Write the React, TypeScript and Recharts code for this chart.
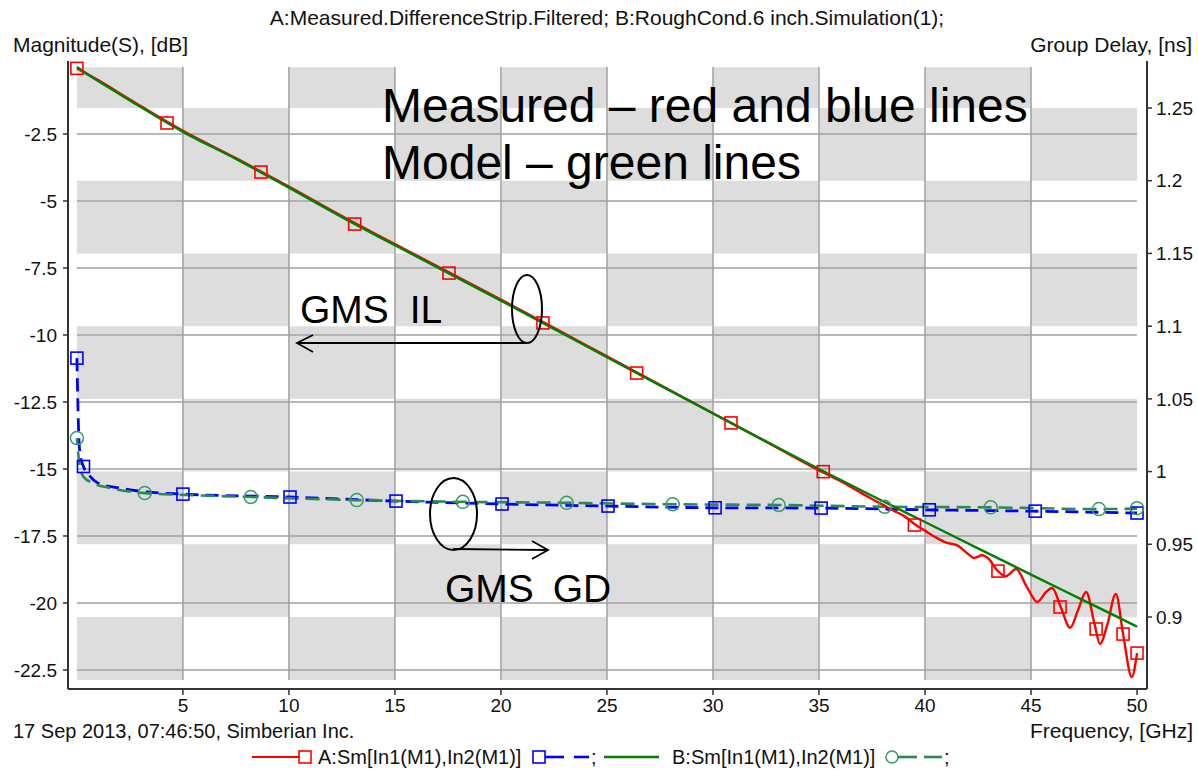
import { ComposedChart, Line, ReferenceArea, ReferenceLine, XAxis, YAxis } from "recharts";

// frequency axis, GHz
const freqTicks = [5, 10, 15, 20, 25, 30, 35, 40, 45, 50];
const magTicks = [-2.5, -5, -7.5, -10, -12.5, -15, -17.5, -20, -22.5];
const gdTicks = [0.9, 0.95, 1, 1.05, 1.1, 1.15, 1.2, 1.25];

// background checkerboard edges (GHz columns, ns rows)
const cellCols = [0, 5, 10, 15, 20, 25, 30, 35, 40, 45, 50];
const cellRows = [1.278, 1.25, 1.2, 1.15, 1.1, 1.05, 1, 0.95, 0.9, 0.8567];

// B: model insertion loss, dB
const modelILFreq = [0, 0.5, 1, 2.5, 5, 7.5, 10, 12.5, 15, 17.5, 20, 22.5, 25, 27.5, 30, 32.5, 35, 37.5, 40, 42.5, 45, 47.5, 50];
const modelIL = [0, -0.28, -0.52, -1.25, -2.42, -3.43, -4.5, -5.6, -6.65, -7.68, -8.72, -9.77, -10.83, -11.88, -12.93, -13.97, -15.0, -16.0, -16.98, -17.96, -18.94, -19.91, -20.88];

// A: measured insertion loss, dB
const measILFreq = [0, 0.5, 1, 2.5, 5, 7.5, 10, 12.5, 15, 17.5, 20, 22.5, 25, 27.5, 30, 32.5, 35, 36, 36.5, 37, 37.5, 38, 38.5, 39, 39.5, 40, 40.5, 41, 41.5, 42, 42.3, 42.7, 43, 43.4, 43.8, 44.3, 44.8, 45.3, 45.7, 46, 46.4, 46.85, 47.2, 47.6, 48, 48.25, 48.6, 49, 49.35, 49.75, 50];
const measIL = [-0.05, -0.26, -0.49, -1.21, -2.38, -3.4, -4.46, -5.56, -6.61, -7.64, -8.68, -9.73, -10.8, -11.86, -12.92, -13.98, -15.05, -15.45, -15.67, -15.9, -16.12, -16.33, -16.55, -16.75, -17.05, -17.3, -17.55, -17.75, -17.84, -18.15, -18.32, -18.22, -18.35, -18.78, -19.0, -18.73, -19.4, -19.96, -19.6, -19.44, -20.15, -20.93, -20.3, -19.59, -20.8, -21.53, -20.8, -19.66, -21.2, -22.76, -21.87];
const measILMarkFreq = [0, 4.25, 8.68, 13.1, 17.55, 21.98, 26.4, 30.85, 35.2, 39.5, 43.44, 46.37, 48.07, 49.34, 50];
const measILMark = [-0.05, -2.09, -3.92, -5.86, -7.69, -9.55, -11.42, -13.28, -15.1, -17.09, -18.81, -20.15, -20.97, -21.16, -21.87];

// A: measured group delay, ns
const measGDFreq = [0, 0.04, 0.08, 0.15, 0.31, 0.6, 1, 2, 3.3, 5, 10, 15, 20, 25, 30, 35, 40, 45, 50];
const measGD = [1.078, 1.05, 1.028, 1.012, 1.0035, 0.997, 0.992, 0.9887, 0.986, 0.9845, 0.9825, 0.9797, 0.9777, 0.9763, 0.9751, 0.9749, 0.9737, 0.9728, 0.9715];
const measGDMarkFreq = [0, 0.31, 5, 10.05, 15.05, 20.05, 25.05, 30.1, 35.1, 40.2, 45.2, 50];
const measGDMark = [1.078, 1.0035, 0.9845, 0.9825, 0.9797, 0.9777, 0.9763, 0.9751, 0.9749, 0.9737, 0.9728, 0.9715];

// B: model group delay, ns
const modelGDFreq = [0, 0.08, 0.2, 0.3, 0.77, 1.56, 3.2, 5, 8.2, 13.2, 18.2, 23.1, 28.1, 33.1, 38.1, 43.1, 48.2, 50];
const modelGD = [1.023, 1.01, 1.0, 0.9965, 0.992, 0.9887, 0.9852, 0.984, 0.9825, 0.9804, 0.9792, 0.9785, 0.9775, 0.977, 0.9758, 0.9754, 0.9742, 0.9745];
const modelGDMarkFreq = [0, 3.2, 8.2, 13.2, 18.2, 23.1, 28.1, 33.1, 38.1, 43.1, 48.2, 50];
const modelGDMark = [1.023, 0.9852, 0.9825, 0.9804, 0.9792, 0.9785, 0.9775, 0.977, 0.9758, 0.9754, 0.9742, 0.9748];

const pts = (fs: number[], vs: number[]) => fs.map((f, i) => ({ f, v: vs[i] }));

const FONT = '"Liberation Sans", Arial, sans-serif';
const RED = "#ff0000";
const BLUE = "#0000ff";
const GREEN = "#008000";
const TEAL = "#2a8a55";

const square = (color: string) => (p: any) =>
  p.cx == null ? <g key={p.index} /> : (
    <rect key={p.index} x={p.cx - 6} y={p.cy - 6} width={12} height={12} fill="none" stroke={color} strokeWidth={1.6} />
  );
const circle = (color: string) => (p: any) =>
  p.cx == null ? <g key={p.index} /> : (
    <circle key={p.index} cx={p.cx} cy={p.cy} r={6.5} fill="none" stroke={color} strokeWidth={1.5} />
  );

const axisLine = { stroke: "#333", strokeWidth: 2 };
const tickLine = { stroke: "#333", strokeWidth: 1.5 };
const tickStyle = { fill: "#111", fontSize: 19, fontFamily: FONT };

export default function App() {
  const cells: any[] = [];
  for (let i = 0; i < cellCols.length - 1; i++) {
    for (let j = 0; j < cellRows.length - 1; j++) {
      if ((i + j) % 2 === 0) {
        cells.push(
          <ReferenceArea
            key={`c${i}-${j}`}
            xAxisId="x"
            yAxisId="right"
            x1={cellCols[i]}
            x2={cellCols[i + 1]}
            y1={cellRows[j + 1]}
            y2={cellRows[j]}
            fill="#dddddd"
            fillOpacity={1}
            stroke="none"
            ifOverflow="visible"
          />
        );
      }
    }
  }

  return (
    <div style={{ position: "absolute", left: 0, top: 0, width: 1198, height: 771, background: "#fff", fontFamily: FONT }}>
      <ComposedChart width={1198} height={771} margin={{ top: 61, right: 0, bottom: 52, left: 0 }}>
        <XAxis
          xAxisId="x"
          dataKey="f"
          type="number"
          domain={[-0.42, 50.47]}
          ticks={freqTicks}
          interval={0}
          allowDataOverflow
          height={30}
          axisLine={axisLine}
          tickLine={tickLine}
          tickSize={6}
          tickMargin={4}
          tick={tickStyle}
        />
        <XAxis
          xAxisId="top"
          orientation="top"
          dataKey="f"
          type="number"
          domain={[-0.42, 50.47]}
          height={0}
          tick={false}
          tickLine={false}
          axisLine={axisLine}
        />
        <YAxis
          yAxisId="left"
          type="number"
          domain={[-23.21, 0.224]}
          ticks={magTicks}
          interval={0}
          allowDataOverflow
          width={68}
          axisLine={axisLine}
          tickLine={tickLine}
          tickSize={5}
          tickMargin={6}
          tick={tickStyle}
        />
        <YAxis
          yAxisId="right"
          orientation="right"
          type="number"
          domain={[0.8505, 1.2823]}
          ticks={gdTicks}
          interval={0}
          allowDataOverflow
          width={51}
          axisLine={axisLine}
          tickLine={tickLine}
          tickSize={5}
          tickMargin={4}
          tick={tickStyle}
        />

        {cells}

        {magTicks.map((m) => (
          <ReferenceLine
            key={`h${m}`}
            xAxisId="x"
            yAxisId="left"
            segment={[{ x: 0, y: m }, { x: 50, y: m }]}
            stroke="#a0a0a0"
            strokeWidth={1.5}
          />
        ))}
        {freqTicks.slice(0, -1).map((f) => (
          <ReferenceLine
            key={`v${f}`}
            xAxisId="x"
            yAxisId="left"
            segment={[{ x: f, y: 0 }, { x: f, y: -22.87 }]}
            stroke="#a0a0a0"
            strokeWidth={1.5}
          />
        ))}

        <Line xAxisId="x" yAxisId="right" data={pts(measGDFreq, measGD)} dataKey="v" type="monotone" stroke={BLUE} strokeWidth={2.8} strokeDasharray="13 7" dot={false} activeDot={false} isAnimationActive={false} />
        <Line xAxisId="x" yAxisId="right" data={pts(modelGDFreq, modelGD)} dataKey="v" type="monotone" stroke={TEAL} strokeWidth={2.6} strokeDasharray="14 7" strokeDashoffset={8} dot={false} activeDot={false} isAnimationActive={false} />
        <Line xAxisId="x" yAxisId="left" data={pts(measILFreq, measIL)} dataKey="v" type="monotone" stroke={RED} strokeWidth={2.4} dot={false} activeDot={false} isAnimationActive={false} />
        <Line xAxisId="x" yAxisId="left" data={pts(modelILFreq, modelIL)} dataKey="v" type="monotone" stroke={GREEN} strokeWidth={2.4} dot={false} activeDot={false} isAnimationActive={false} />

        <Line xAxisId="x" yAxisId="left" data={pts(measILMarkFreq, measILMark)} dataKey="v" stroke="none" dot={square(RED)} activeDot={false} isAnimationActive={false} />
        <Line xAxisId="x" yAxisId="right" data={pts(measGDMarkFreq, measGDMark)} dataKey="v" stroke="none" dot={square(BLUE)} activeDot={false} isAnimationActive={false} />
        <Line xAxisId="x" yAxisId="right" data={pts(modelGDMarkFreq, modelGDMark)} dataKey="v" stroke="none" dot={circle("#3a9a66")} activeDot={false} isAnimationActive={false} />
      </ComposedChart>

      <svg width={1198} height={771} style={{ position: "absolute", left: 0, top: 0, pointerEvents: "none" }} fontFamily={FONT}>
        <text x={607} y={25} fontSize={21} textAnchor="middle" fill="#111">
          A:Measured.DifferenceStrip.Filtered; B:RoughCond.6 inch.Simulation(1);
        </text>
        <text x={13} y={52} fontSize={21} fill="#111">Magnitude(S), [dB]</text>
        <text x={1192} y={52} fontSize={21} textAnchor="end" fill="#111">Group Delay, [ns]</text>
        <text x={1193} y={738} fontSize={21} textAnchor="end" fill="#111">Frequency, [GHz]</text>
        <text x={13} y={738} fontSize={20} fill="#111">17 Sep 2013, 07:46:50, Simberian Inc.</text>

        {/* legend */}
        <line x1={252} y1={757} x2={300} y2={757} stroke={RED} strokeWidth={2} />
        <rect x={299} y={751} width={12} height={12} fill="none" stroke={RED} strokeWidth={1.6} />
        <text x={318} y={764} fontSize={20} fill="#111">A:Sm[In1(M1),In2(M1)]</text>
        <rect x={533} y={751} width={12} height={12} fill="none" stroke={BLUE} strokeWidth={1.6} />
        <line x1={545} y1={757} x2={564} y2={757} stroke={BLUE} strokeWidth={2.6} />
        <line x1={574} y1={757} x2={589} y2={757} stroke={BLUE} strokeWidth={2.6} />
        <text x={591} y={764} fontSize={20} fill="#111">;</text>
        <line x1={604} y1={757} x2={659} y2={757} stroke={GREEN} strokeWidth={2.6} />
        <text x={672} y={764} fontSize={20} fill="#111">B:Sm[In1(M1),In2(M1)]</text>
        <circle cx={892} cy={757} r={6} fill="none" stroke="#3a9a66" strokeWidth={1.5} />
        <line x1={898} y1={757} x2={917} y2={757} stroke={TEAL} strokeWidth={2.6} />
        <line x1={924} y1={757} x2={942} y2={757} stroke={TEAL} strokeWidth={2.6} />
        <text x={944} y={764} fontSize={20} fill="#111">;</text>

        {/* annotations */}
        <text x={382} y={122} fontSize={48} fill="#000">Measured – red and blue lines</text>
        <text x={382} y={179} fontSize={48} fill="#000">Model – green lines</text>
        <text x={300} y={323} fontSize={39} fill="#000" wordSpacing={10}>GMS IL</text>
        <text x={445} y={602} fontSize={39} fill="#000" wordSpacing={8}>GMS GD</text>
        <ellipse cx={527} cy={309} rx={15} ry={34} fill="none" stroke="#000" strokeWidth={2} />
        <line x1={527} y1={343} x2={297} y2={343} stroke="#000" strokeWidth={1.8} />
        <polyline points="313,335 297,343 313,352" fill="none" stroke="#000" strokeWidth={1.8} />
        <ellipse cx={453.5} cy={514} rx={23.5} ry={36} fill="none" stroke="#000" strokeWidth={2} />
        <line x1={453} y1={549} x2={548} y2={550} stroke="#000" strokeWidth={1.8} />
        <polyline points="532,541 548,550 532,559" fill="none" stroke="#000" strokeWidth={1.8} />
      </svg>
    </div>
  );
}
